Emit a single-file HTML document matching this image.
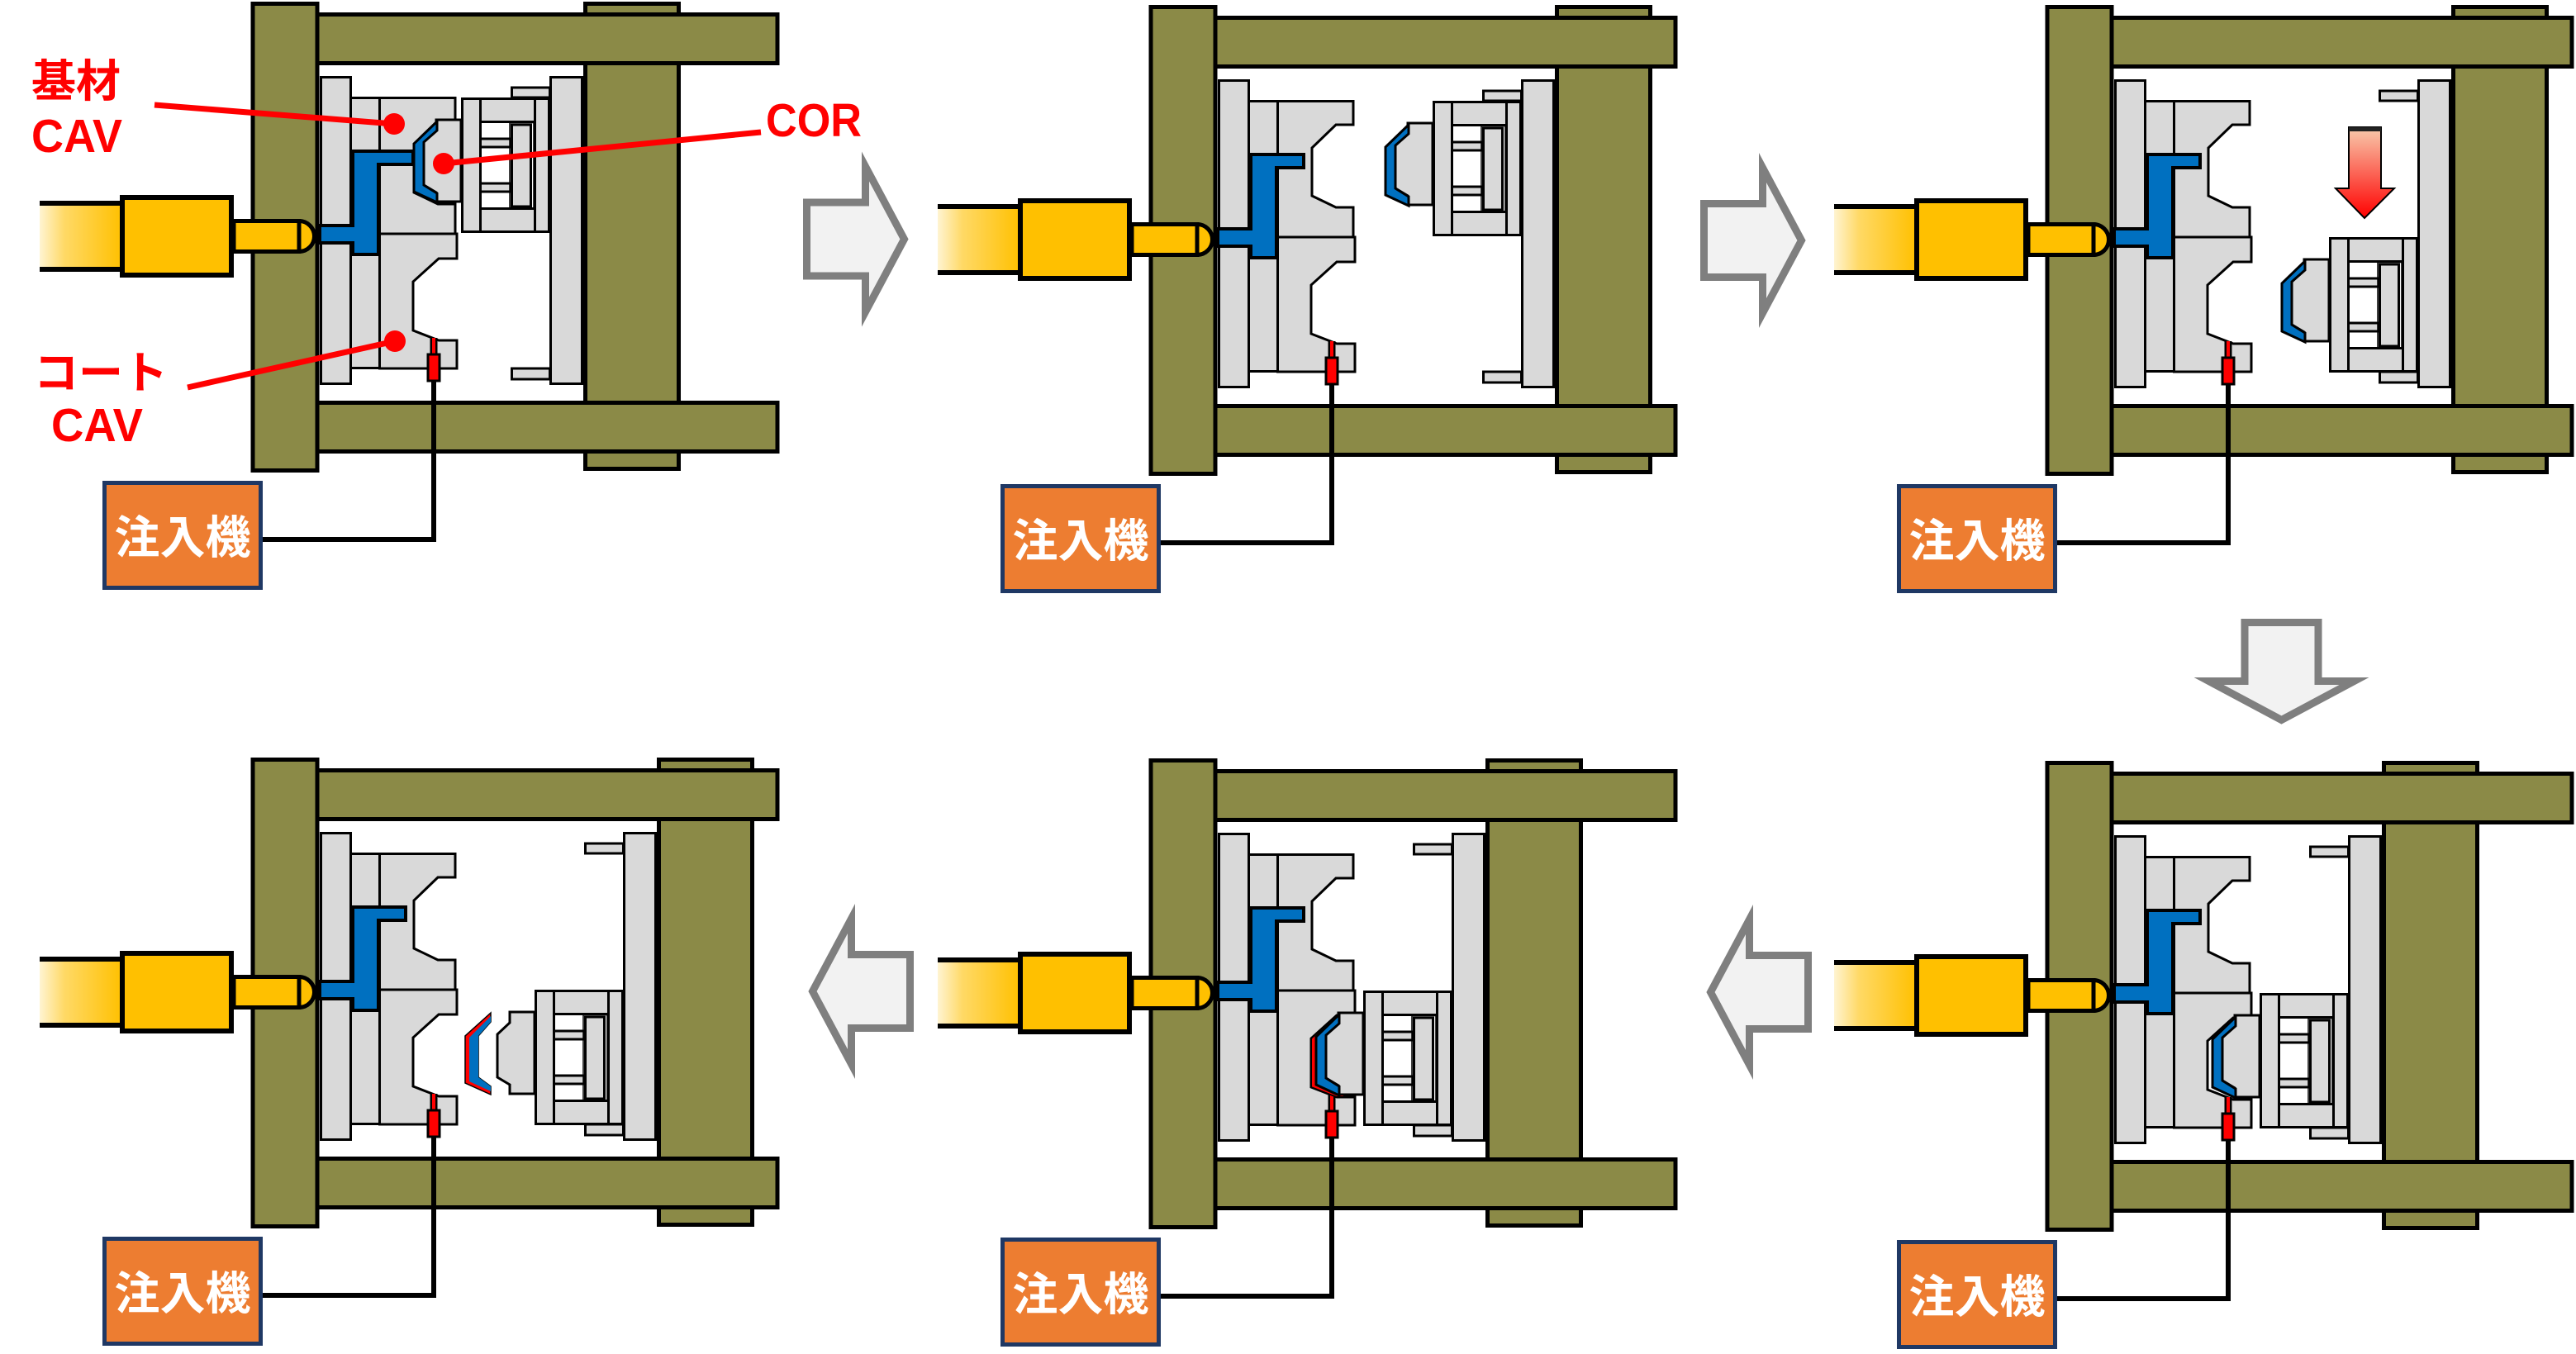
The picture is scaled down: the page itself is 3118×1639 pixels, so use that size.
<!DOCTYPE html>
<html><head><meta charset="utf-8"><style>html,body{margin:0;padding:0;background:#fff;}body{width:3118px;height:1639px;overflow:hidden;}svg{display:block;}</style></head><body>
<svg xmlns="http://www.w3.org/2000/svg" width="3118" height="1639" viewBox="0 0 3118 1639">
<defs>
<linearGradient id="gb" x1="0" y1="0" x2="1" y2="0"><stop offset="0" stop-color="#FFF4D2"/><stop offset="0.3" stop-color="#FFD966"/><stop offset="1" stop-color="#FFC000"/></linearGradient>
<linearGradient id="gr" x1="0" y1="0" x2="0" y2="1"><stop offset="0" stop-color="#F8CBAD"/><stop offset="1" stop-color="#FF0000"/></linearGradient>
<rect id="mp" x="708.5" y="4.5" width="113" height="563" fill="#8B8A47" stroke="#000" stroke-width="5"/>
<g id="fix">
 <rect x="384" y="17.5" width="557" height="59" fill="#8B8A47" stroke="#000" stroke-width="5"/>
 <rect x="384" y="487.5" width="557" height="59" fill="#8B8A47" stroke="#000" stroke-width="5"/>
 <rect x="306" y="4.5" width="78" height="565" fill="#8B8A47" stroke="#000" stroke-width="5"/>
 <rect x="48" y="246" width="100" height="80" fill="url(#gb)"/>
 <path d="M48,246H148M48,326H148" stroke="#000" stroke-width="6"/>
 <rect x="148" y="239" width="132" height="94" fill="#FFC000" stroke="#000" stroke-width="6"/>
 <rect x="283" y="267.5" width="79" height="37" fill="#FFC000" stroke="#000" stroke-width="5"/>
 <path d="M362,267.5A18.5,18.5 0 0 1 362,304.5Z" fill="#FFC000" stroke="#000" stroke-width="5"/>
 <g fill="#D9D9D9" stroke="#000" stroke-width="3">
  <rect x="388.5" y="93.5" width="36" height="371"/>
  <rect x="424.5" y="118.5" width="35" height="327"/>
  <polygon points="459.5,118.5 551,118.5 551,147 530,147 501,175 501,233 530,247 551,247 551,283 459.5,283"/>
  <polygon points="459.5,283 553,283 553,313 531,313 500,341 500,400 531,412 553,412 553,446 459.5,446"/>
 </g>
 <path d="M525,409V430" stroke="#000" stroke-width="9"/>
 <path d="M525,409V430" stroke="#F00" stroke-width="4"/>
 <rect x="518" y="429" width="14" height="32" fill="#F00" stroke="#000" stroke-width="3"/>
 <path d="M525,461V653H316" fill="none" stroke="#000" stroke-width="6"/>
 <rect x="126.5" y="584.5" width="189" height="127" fill="#ED7D31" stroke="#1F3864" stroke-width="5"/>
</g>
<polygon id="run1" points="427,183 500,183 500,199 458,199 458,308 427,308 427,294 387,294 387,273 427,273" fill="#0070C0" stroke="#000" stroke-width="4"/>
<polygon id="run2" points="427,183 491,183 491,199 458,199 458,308 427,308 427,294 387,294 387,273 427,273" fill="#0070C0" stroke="#000" stroke-width="4"/>
<g id="mov" fill="#D9D9D9" stroke="#000" stroke-width="3">
 <rect x="666.5" y="93.5" width="38" height="371"/>
 <rect x="619.5" y="106" width="46" height="12"/>
 <rect x="619.5" y="446" width="46" height="13"/>
</g>
<g id="core" fill="#D9D9D9" stroke="#000" stroke-width="3">
 <rect x="559.5" y="119.5" width="22" height="161"/>
 <rect x="581.5" y="119.5" width="66" height="28"/>
 <rect x="581.5" y="252.5" width="66" height="28"/>
 <rect x="581.5" y="168" width="37" height="10"/>
 <rect x="581.5" y="222" width="37" height="10"/>
 <rect x="617" y="148.5" width="29" height="104" fill="none" stroke-width="1.5"/>
 <rect x="619.5" y="151" width="23" height="99"/>
 <rect x="647.5" y="119.5" width="17" height="161"/>
 <polygon points="528,145 558,145 558,244 528,244 528,233 513,224 513,172 528,158"/>
</g>
<path id="coat" d="M529,147L501,174L501,232L529,245L529,234L513,224L513,172L529,158Z" fill="#0070C0" stroke="#000" stroke-width="3"/>
<polygon id="arw" points="0,-44.5 71,-44.5 71,-88 118,0 71,88 71,44.5 0,44.5" fill="#F2F2F2" stroke="#7F7F7F" stroke-width="9" stroke-miterlimit="10"/>
</defs>

<!-- Panel 1 -->
<g>
 <use href="#mp"/>
 <use href="#fix"/>
 <use href="#run1"/>
 <use href="#mov"/>
 <use href="#core"/>
 <use href="#coat"/>
 <text x="221" y="670" text-anchor="middle" font-size="55" font-weight="bold" fill="#fff" font-family="'Liberation Sans','Noto Sans CJK JP',sans-serif">注入機</text>
</g>

<!-- Panel 2 -->
<g transform="translate(1087,4)">
 <use href="#mp" transform="translate(89,0)"/>
 <use href="#fix"/>
 <use href="#run2"/>
 <use href="#mov" transform="translate(89,0)"/>
 <use href="#core" transform="translate(89,0)"/>
 <use href="#coat" transform="translate(89,0)"/>
 <text x="221" y="670" text-anchor="middle" font-size="55" font-weight="bold" fill="#fff" font-family="'Liberation Sans','Noto Sans CJK JP',sans-serif">注入機</text>
</g>

<!-- Panel 3 -->
<g transform="translate(2172,4)">
 <use href="#mp" transform="translate(89,0)"/>
 <use href="#fix"/>
 <use href="#run2"/>
 <use href="#mov" transform="translate(89,0)"/>
 <use href="#core" transform="translate(89,165)"/>
 <use href="#coat" transform="translate(89,165)"/>
 <path d="M671,150H710V224H726L690,260L655,224H671Z" fill="url(#gr)" stroke="#000" stroke-width="2"/>
 <rect x="671" y="150" width="39" height="5" fill="#222"/>
 <text x="221" y="670" text-anchor="middle" font-size="55" font-weight="bold" fill="#fff" font-family="'Liberation Sans','Noto Sans CJK JP',sans-serif">注入機</text>
</g>

<!-- Panel 4 -->
<g transform="translate(2172,919)">
 <use href="#mp" transform="translate(5,0)"/>
 <use href="#fix"/>
 <use href="#run2"/>
 <use href="#mov" transform="translate(5,0)"/>
 <use href="#core" transform="translate(5,165)"/>
 <use href="#coat" transform="translate(5,165)"/>
 <text x="221" y="670" text-anchor="middle" font-size="55" font-weight="bold" fill="#fff" font-family="'Liberation Sans','Noto Sans CJK JP',sans-serif">注入機</text>
</g>

<!-- Panel 5 -->
<g transform="translate(1087,916)">
 <use href="#mp" transform="translate(5,0)"/>
 <use href="#fix"/>
 <use href="#run2"/>
 <path d="M540,313L531,313L500,341L500,400L531,412L540,412Z" fill="#F00" stroke="#000" stroke-width="2"/>
 <use href="#mov" transform="translate(5,0)"/>
 <use href="#core" transform="translate(5,165)"/>
 <use href="#coat" transform="translate(5,165)"/>
 <text x="221" y="670" text-anchor="middle" font-size="55" font-weight="bold" fill="#fff" font-family="'Liberation Sans','Noto Sans CJK JP',sans-serif">注入機</text>
</g>

<!-- Panel 6 -->
<g transform="translate(0,915)">
 <use href="#mp" transform="translate(89,0)"/>
 <use href="#fix"/>
 <use href="#run2"/>
 <use href="#mov" transform="translate(89,0)"/>
 <use href="#core" transform="translate(89,165)"/>
 <path d="M594,311L563,339L563,396L594,410L594,400L579,389L579,339L594,322Z" fill="#F00" stroke="#000" stroke-width="1.5"/>
 <path d="M594,315L568,341L568,394L594,406L594,400L579,389L579,339L594,322Z" fill="#0070C0"/>
 <text x="221" y="670" text-anchor="middle" font-size="55" font-weight="bold" fill="#fff" font-family="'Liberation Sans','Noto Sans CJK JP',sans-serif">注入機</text>
</g>

<!-- Flow arrows -->
<use href="#arw" transform="translate(976.5,289.5)"/>
<use href="#arw" transform="translate(2062.5,291)"/>
<use href="#arw" transform="translate(2761.5,753.5) rotate(90)"/>
<use href="#arw" transform="translate(2188.5,1201) scale(-1,1)"/>
<use href="#arw" transform="translate(1101.5,1200) scale(-1,1)"/>

<!-- Labels (panel 1) -->
<path d="M187,127L477,150M227,469L478,413M921,160L537,198" stroke="#F00" stroke-width="7" fill="none"/>
<circle cx="477" cy="150" r="13" fill="#F00"/>
<circle cx="478" cy="413" r="13" fill="#F00"/>
<circle cx="537" cy="198" r="13" fill="#F00"/>
<g fill="#F00" font-weight="bold" font-family="'Liberation Sans','Noto Sans CJK JP',sans-serif">
 <text x="38" y="117" font-size="54">基材</text>
 <text x="38" y="184" font-size="57" textLength="110" lengthAdjust="spacingAndGlyphs">CAV</text>
 <text x="41" y="470" font-size="54">コート</text>
 <text x="62" y="534" font-size="57" textLength="111" lengthAdjust="spacingAndGlyphs">CAV</text>
 <text x="927" y="165" font-size="57" textLength="116" lengthAdjust="spacingAndGlyphs">COR</text>
</g>
</svg>
</body></html>
